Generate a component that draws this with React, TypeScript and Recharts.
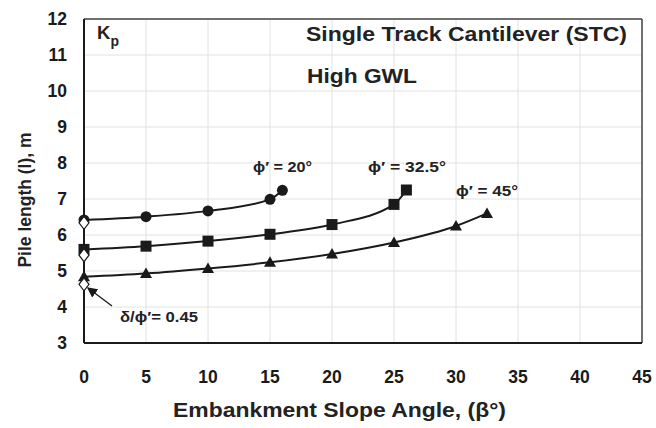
import React from 'react';
import {
  ComposedChart,
  Line,
  Scatter,
  XAxis,
  YAxis,
  CartesianGrid,
  ReferenceLine,
} from 'recharts';

const phi20 = [
  { x: 0, y: 6.42 },
  { x: 5, y: 6.51 },
  { x: 10, y: 6.67 },
  { x: 15, y: 6.99 },
  { x: 16, y: 7.24 },
];

const phi325 = [
  { x: 0, y: 5.6 },
  { x: 5, y: 5.69 },
  { x: 10, y: 5.83 },
  { x: 15, y: 6.02 },
  { x: 20, y: 6.29 },
  { x: 25, y: 6.85 },
  { x: 26, y: 7.25 },
];

const phi45 = [
  { x: 0, y: 4.84 },
  { x: 5, y: 4.93 },
  { x: 10, y: 5.07 },
  { x: 15, y: 5.24 },
  { x: 20, y: 5.47 },
  { x: 25, y: 5.79 },
  { x: 30, y: 6.25 },
  { x: 32.5, y: 6.6 },
];

// delta/phi' = 0.45 points at beta = 0
const lowDelta = [
  { x: 0, y: 6.34 },
  { x: 0, y: 5.44 },
  { x: 0, y: 4.63 },
];

const xTicks = [0, 5, 10, 15, 20, 25, 30, 35, 40, 45];
const yTicks = [3, 4, 5, 6, 7, 8, 9, 10, 11, 12];

const INK = '#1a1a1a';
const FONT = 'Arial, "Liberation Sans", sans-serif';

const CircleDot = (p: any) => <circle cx={p.cx} cy={p.cy} r={5.5} fill={INK} />;
const SquareDot = (p: any) => (
  <rect x={p.cx - 5.5} y={p.cy - 5.5} width={11} height={11} fill={INK} />
);
const TriDot = (p: any) => (
  <path
    d={`M${p.cx},${p.cy - 6} L${p.cx + 6},${p.cy + 4.5} L${p.cx - 6},${p.cy + 4.5} Z`}
    fill={INK}
  />
);
const Diamond = (p: any) => (
  <path
    d={`M${p.cx},${p.cy - 6.5} L${p.cx + 5},${p.cy} L${p.cx},${p.cy + 6.5} L${p.cx - 5},${p.cy} Z`}
    fill="#fff"
    stroke={INK}
    strokeWidth={1.2}
  />
);

const tickStyle = { fontSize: 17.5, fontWeight: 700, fill: INK, fontFamily: FONT };
const txt = { fontFamily: FONT, fontWeight: 700, fill: '#222' };

export default function App() {
  return (
    <div style={{ position: 'fixed', left: 0, top: 0, background: '#fff' }}>
      <ComposedChart
        width={656}
        height={428}
        margin={{ top: 19, right: 14, bottom: 55, left: 34 }}
      >
        <defs>
          <marker id="arr" markerWidth="8" markerHeight="8" refX="7" refY="4" orient="auto">
            <path d="M0,0 L8,4 L0,8 Z" fill={INK} />
          </marker>
        </defs>
        <CartesianGrid stroke="#e2e2e2" />
        <XAxis
          type="number"
          dataKey="x"
          domain={[0, 45]}
          ticks={xTicks}
          tickLine={false}
          axisLine={{ stroke: INK, strokeWidth: 2 }}
          tick={tickStyle}
          tickMargin={22}
          height={30}
        />
        <YAxis
          type="number"
          dataKey="y"
          domain={[3, 12]}
          ticks={yTicks}
          tickLine={false}
          axisLine={{ stroke: INK, strokeWidth: 2 }}
          tick={tickStyle}
          tickMargin={11}
          width={50}
        />
        <ReferenceLine y={12} stroke="#444" strokeWidth={1.5} />
        <ReferenceLine x={45} stroke="#444" strokeWidth={1.5} />
        <Line
          data={phi20}
          dataKey="y"
          type="monotone"
          stroke={INK}
          strokeWidth={2}
          dot={<CircleDot />}
          activeDot={false}
          isAnimationActive={false}
        />
        <Line
          data={phi325}
          dataKey="y"
          type="monotone"
          stroke={INK}
          strokeWidth={2}
          dot={<SquareDot />}
          activeDot={false}
          isAnimationActive={false}
        />
        <Line
          data={phi45}
          dataKey="y"
          type="monotone"
          stroke={INK}
          strokeWidth={2}
          dot={<TriDot />}
          activeDot={false}
          isAnimationActive={false}
        />
        <Scatter data={lowDelta} dataKey="y" shape={<Diamond />} isAnimationActive={false} />

        <text x={97} y={39} {...txt} fontSize={18.5}>
          K<tspan dy={7} fontSize={14}>p</tspan>
        </text>
        <text x={306} y={41} {...txt} fontSize={21} textLength={321} lengthAdjust="spacingAndGlyphs">
          Single Track Cantilever (STC)
        </text>
        <text x={307} y={83} {...txt} fontSize={21} textLength={110} lengthAdjust="spacingAndGlyphs">
          High GWL
        </text>
        <text x={253} y={172} {...txt} fontSize={15.5} textLength={59} lengthAdjust="spacingAndGlyphs">
          ϕ′ = 20°
        </text>
        <text x={368} y={172} {...txt} fontSize={15.5} textLength={78} lengthAdjust="spacingAndGlyphs">
          ϕ′ = 32.5°
        </text>
        <text x={456} y={196} {...txt} fontSize={15.5} textLength={62} lengthAdjust="spacingAndGlyphs">
          ϕ′ = 45°
        </text>
        <text x={120} y={322} {...txt} fontSize={15.5} textLength={78} lengthAdjust="spacingAndGlyphs">
          δ/ϕ′= 0.45
        </text>
        <line x1={112} y1={306} x2={88} y2={288} stroke={INK} strokeWidth={1.3} markerEnd="url(#arr)" />
        <text
          x={31}
          y={200}
          {...txt}
          fontSize={17.5}
          textAnchor="middle"
          transform="rotate(-90 31 200)"
        >
          Pile length (l), m
        </text>
        <text x={173} y={417} {...txt} fontSize={21} textLength={333} lengthAdjust="spacingAndGlyphs">
          Embankment Slope Angle, (β°)
        </text>
      </ComposedChart>
    </div>
  );
}
